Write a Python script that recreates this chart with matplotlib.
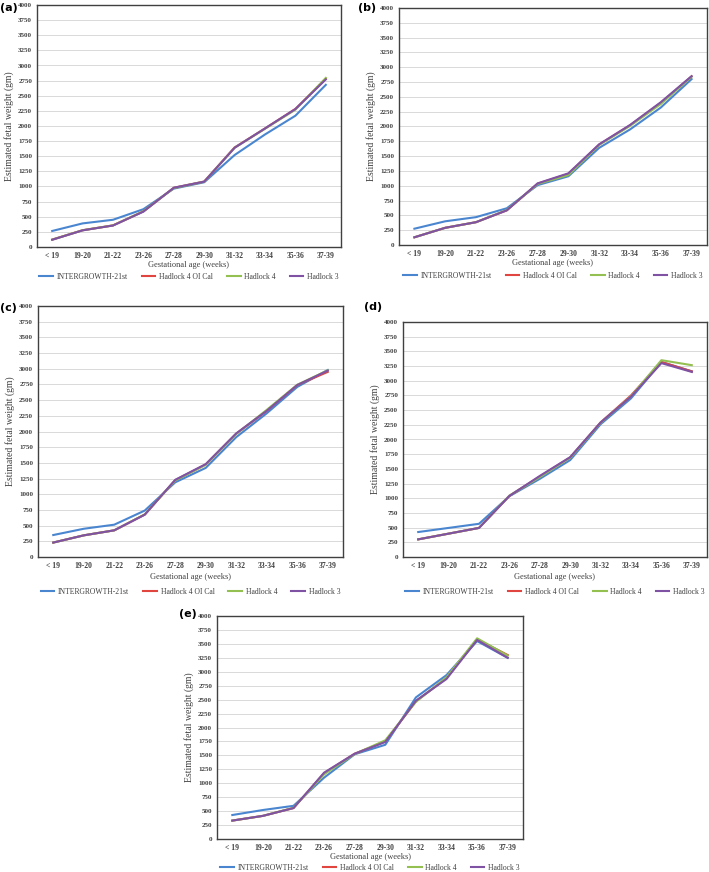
import numpy as np
import matplotlib.pyplot as plt

plt.rcParams['font.family'] = ['Liberation Serif', 'DejaVu Serif']

ages = ['< 19', '19-20', '21-22', '23-26', '27-28', '29-30', '31-32', '33-34', '35-36', '37-39']
names = ['INTERGROWTH-21st', 'Hadlock 4 OI Cal', 'Hadlock 4', 'Hadlock 3']
colors = ['#4a86d0', '#e0453f', '#94c051', '#7f52a3']
nan = np.nan

# (a)
a_ig = [265, 390, 450, 625, 965, 1070, 1520, 1860, 2170, 2680]
a_h4oi = [122, 277, 357, 588, 978, 1082, 1645, 1958, 2282, 2780]
a_h4 = [122, 277, 357, 590, 975, 1080, 1640, 1955, 2270, 2795]
a_h3 = [120, 275, 355, 585, 980, 1080, 1640, 1960, 2280, 2770]
# (b)
b_ig = [275, 400, 470, 620, 1010, 1160, 1640, 1950, 2320, 2800]
b_h4oi = [130, 290, 385, 585, 1035, 1200, 1695, 2020, 2400, 2845]
b_h4 = [130, 290, 385, 590, 1030, 1180, 1690, 2010, 2380, 2840]
b_h3 = [130, 290, 385, 585, 1040, 1210, 1700, 2025, 2410, 2850]
# (c)
c_ig = [350, 450, 515, 740, 1190, 1420, 1910, 2290, 2710, 2980]
c_h4oi = [230, 345, 425, 675, 1225, 1475, 1965, 2330, 2740, 2950]
c_h4 = [230, 345, 425, 680, 1220, 1470, 1960, 2345, 2745, 2975]
c_h3 = [230, 345, 425, 675, 1230, 1480, 1970, 2330, 2740, 2970]
# (d) no 19-20 group
d_ig = [425, nan, 565, 1035, 1330, 1650, 2260, 2700, 3320, 3160]
d_h4oi = [300, nan, 495, 1040, 1370, 1695, 2290, 2750, 3320, 3160]
d_h4 = [300, nan, 495, 1045, 1360, 1690, 2285, 2735, 3350, 3265]
d_h3 = [300, nan, 495, 1040, 1380, 1700, 2290, 2730, 3300, 3150]
# (e)
e_ig = [430, 520, 595, 1100, 1520, 1690, 2540, 2940, 3550, 3250]
e_h4oi = [330, 415, 555, 1180, 1530, 1750, 2470, 2890, 3580, 3300]
e_h4 = [330, 415, 560, 1160, 1525, 1770, 2460, 2900, 3600, 3290]
e_h3 = [330, 415, 555, 1190, 1530, 1740, 2480, 2870, 3570, 3250]

W, H = 709, 872
# panel label, series, axes box px (left, top, right, bottom), label pos px, x-label drop, legend drop
panels = [
    ('(a)', [a_ig, a_h4oi, a_h4, a_h3], (37, 5, 341, 247), (0, 3), 18, 30),
    ('(b)', [b_ig, b_h4oi, b_h4, b_h3], (399, 8, 707, 245), (358, 3), 18, 31),
    ('(c)', [c_ig, c_h4oi, c_h4, c_h3], (38, 306, 343, 557), (0, 303), 20, 35),
    ('(d)', [d_ig, d_h4oi, d_h4, d_h3], (403, 322, 707, 557), (364, 302), 20, 35),
    ('(e)', [e_ig, e_h4oi, e_h4, e_h3], (217, 616, 523, 839), (179, 609), 18, 29),
]

fig = plt.figure(figsize=(W / 100, H / 100), dpi=100)
x = np.arange(len(ages))

for label, series, box, lpos, xdrop, drop in panels:
    l, t, r, b = box
    ax = fig.add_axes([l / W, 1 - b / H, (r - l) / W, (b - t) / H])
    for vals, name, c in zip(series, names, colors):
        v = np.array(vals, dtype=float)
        m = ~np.isnan(v)
        ax.plot(x[m], v[m], color=c, lw=1.5, label=name)
    ax.set_xlim(-0.5, 9.5)
    ax.set_ylim(0, 4000)
    ax.set_yticks(np.arange(0, 4001, 250))
    ax.set_xticks(x)
    ax.set_xticklabels(ages)
    ax.tick_params(axis='x', labelsize=5.5, length=0, pad=3.5, colors='#404040')
    ax.tick_params(axis='y', labelsize=5, length=0, pad=3.5, colors='#404040')
    for tl in ax.get_xticklabels() + ax.get_yticklabels():
        tl.set_fontweight('bold')
    ax.grid(axis='y', color='#d9d9d9', lw=0.7)
    ax.set_axisbelow(True)
    for s in ['left', 'top', 'right', 'bottom']:
        ax.spines[s].set_color('#404040')
        ax.spines[s].set_linewidth(1.0)
    ax.set_xlabel('Gestational age (weeks)', fontsize=6, color='#404040')
    ax.xaxis.set_label_coords(0.5, -xdrop / (b - t), transform=ax.transAxes)
    ax.xaxis.label.set_va('center')
    ax.set_ylabel('Estimated fetal weight (gm)', fontsize=7, color='#404040', labelpad=3)
    ax.legend(loc='center', bbox_to_anchor=(0.5, -drop / (b - t)), ncol=4, frameon=False,
              fontsize=5.5, handlelength=1.8, columnspacing=1.8, handletextpad=0.5,
              labelcolor='#404040')
    fig.text(lpos[0] / W, 1 - lpos[1] / H, label, fontsize=8, fontweight='bold',
             family='DejaVu Sans', va='top', ha='left')

fig.savefig('out.png', dpi=100)
